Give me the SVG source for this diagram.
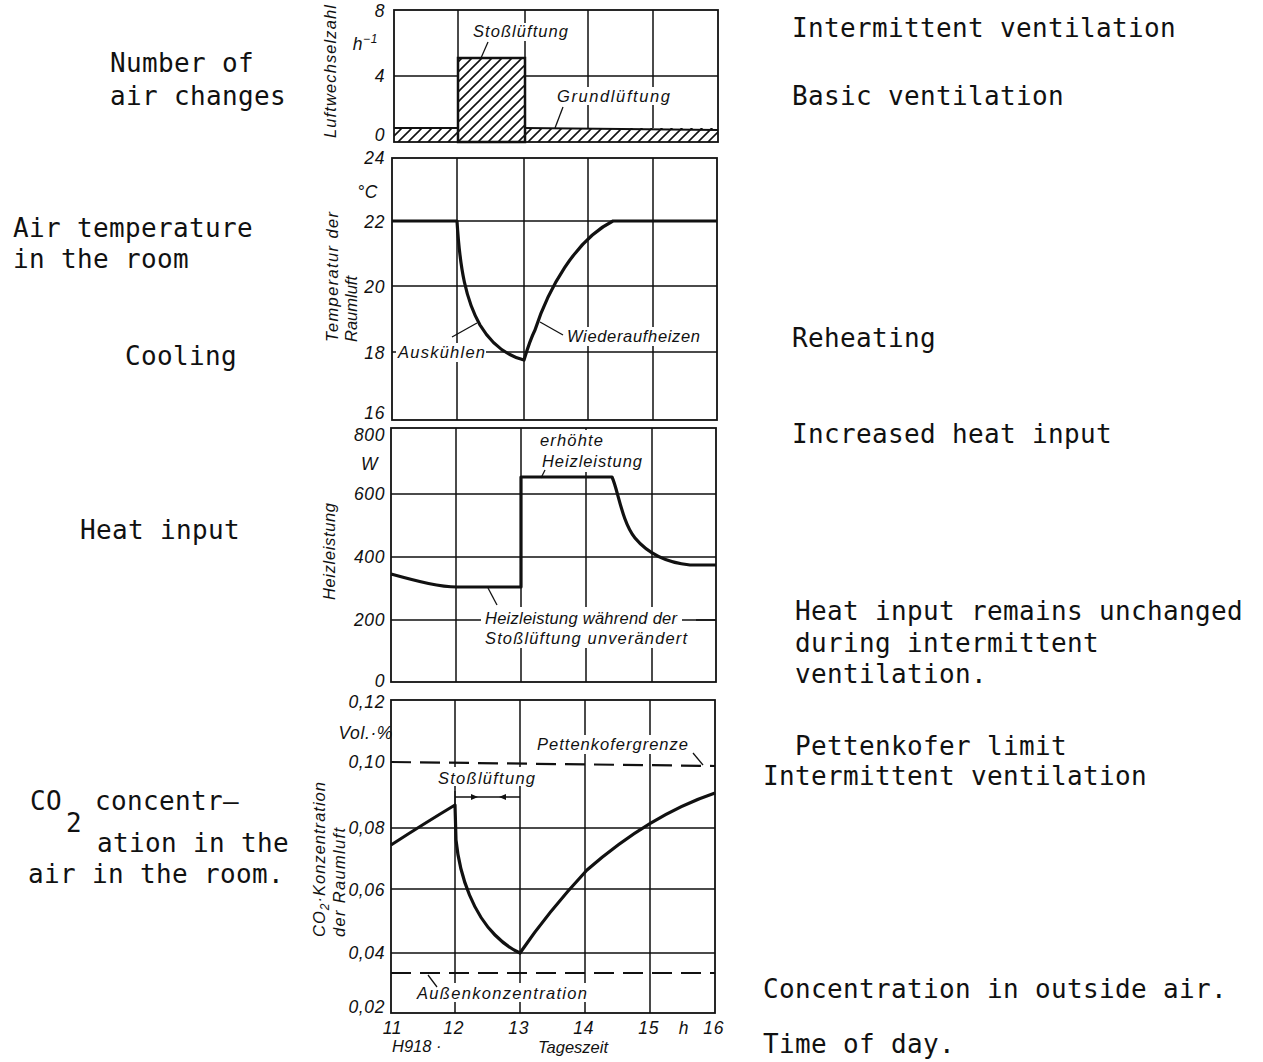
<svg xmlns="http://www.w3.org/2000/svg" width="1263" height="1062" viewBox="0 0 1263 1062">
<style>
.mono{font-family:"DejaVu Sans Mono","Liberation Mono",monospace;font-size:26px;letter-spacing:0.35px;fill:#111}
.lbl{font-family:"Liberation Sans",Arial,sans-serif;font-style:italic;font-size:16.5px;fill:#111}
.tick{font-family:"Liberation Sans",Arial,sans-serif;font-style:italic;font-size:17.5px;letter-spacing:0.6px;fill:#111;text-anchor:end}
.grid{stroke:#111;stroke-width:1.5;fill:none}
.frame{stroke:#111;stroke-width:1.8;fill:none}
.curve{stroke:#111;stroke-width:3.2;fill:none;stroke-linejoin:round}
.lead{stroke:#111;stroke-width:1.3;fill:none}
.dash{stroke:#111;stroke-width:2.2;fill:none;stroke-dasharray:20 9}
.bg{fill:#fff}
</style>
<defs>
<pattern id="hatch" patternUnits="userSpaceOnUse" width="10" height="10">
<rect width="10" height="10" fill="#fff"/>
<path d="M-1,11 L11,-1 M-1,1 L1,-1 M9,11 L11,9" stroke="#111" stroke-width="1.6"/>
</pattern>
</defs>
<rect width="1263" height="1062" fill="#fff"/>

<!-- Chart 1: air changes -->
<g id="chart-air-changes">
<path class="grid" d="M458,10 V142 M525,10 V142 M588,10 V142 M653,10 V142 M394,76 H718"/>
<rect x="394" y="128" width="324" height="14" fill="url(#hatch)"/>
<rect x="458" y="58" width="67" height="84" fill="url(#hatch)" stroke="#111" stroke-width="2.5"/>
<path d="M394,128 H458 M525,128 L718,130" stroke="#111" stroke-width="2" fill="none"/>
<rect class="frame" x="394" y="10" width="324" height="132"/>
<text class="tick" x="385" y="17">8</text>
<text class="tick" x="378" y="50">h<tspan dy="-7" font-size="12">−1</tspan></text>
<text class="tick" x="385" y="82">4</text>
<text class="tick" x="385" y="141">0</text>
<text class="lbl" font-size="17" transform="translate(336,138) rotate(-90)" textLength="133" lengthAdjust="spacing">Luftwechselzahl</text>
<rect class="bg" x="470" y="23" width="100" height="18"/>
<text class="lbl" x="473" y="37" textLength="95" lengthAdjust="spacing">Stoßlüftung</text>
<rect class="bg" x="554" y="87" width="118" height="18"/>
<text class="lbl" x="557" y="102" textLength="113" lengthAdjust="spacing">Grundlüftung</text>
</g>

<!-- Chart 2: temperature -->
<g id="chart-temperature">
<path class="grid" d="M457,158 V420 M524,158 V420 M588,158 V420 M653,158 V420 M392,221 H717 M392,286 H717 M392,352 H717"/>
<rect class="frame" x="392" y="158" width="325" height="262"/>
<rect class="bg" x="396" y="343" width="90" height="19"/>
<rect class="bg" x="564" y="327" width="138" height="19"/>
<path class="curve" d="M392,221 H457 C460,270 466,300 480,325 C492,345 508,356 524,360 C527,350 530,340 535,330 C548,290 575,240 613,221 H717"/>
<text class="tick" x="385" y="164">24</text>
<text class="tick" x="378" y="198">°C</text>
<text class="tick" x="385" y="228">22</text>
<text class="tick" x="385" y="293">20</text>
<text class="tick" x="385" y="359">18</text>
<text class="tick" x="385" y="419" font-size="16.5">16</text>
<text class="lbl" font-size="17" transform="translate(338,342) rotate(-90)" textLength="130" lengthAdjust="spacing">Temperatur der</text>
<text class="lbl" font-size="16.5" transform="translate(357,342) rotate(-90)">Raumluft</text>
<text class="lbl" x="398" y="358" textLength="87" lengthAdjust="spacing">Auskühlen</text>
<text class="lbl" x="567" y="342" textLength="133" lengthAdjust="spacing">Wiederaufheizen</text>
</g>

<!-- Chart 3: heat input -->
<g id="chart-heat">
<path class="grid" d="M456,428 V682 M521,428 V682 M586,428 V682 M652,428 V682 M391,494 H716 M391,557 H716 M391,620 H716"/>
<rect class="frame" x="391" y="428" width="325" height="254"/>
<rect class="bg" x="536" y="430" width="110" height="42"/>
<rect class="bg" x="481" y="607" width="215" height="41"/>
<path class="curve" d="M391,574 C420,582 440,587 457,587 H521 V477 H612 C618,490 622,522 635,538 C650,556 670,563 690,565 H716"/>
<text class="tick" x="385" y="441" font-size="16.5">800</text>
<text class="tick" x="378" y="470">W</text>
<text class="tick" x="385" y="500">600</text>
<text class="tick" x="385" y="563">400</text>
<text class="tick" x="385" y="626">200</text>
<text class="tick" x="385" y="687">0</text>
<text class="lbl" font-size="17" transform="translate(335,600) rotate(-90)" textLength="97" lengthAdjust="spacing">Heizleistung</text>
<text class="lbl" x="540" y="446" textLength="63" lengthAdjust="spacing">erhöhte</text>
<text class="lbl" x="542" y="467" textLength="100" lengthAdjust="spacing">Heizleistung</text>
<text class="lbl" x="485" y="624" textLength="192" lengthAdjust="spacing">Heizleistung während der</text>
<text class="lbl" x="485" y="644" textLength="202" lengthAdjust="spacing">Stoßlüftung unverändert</text>
</g>

<!-- Chart 4: CO2 -->
<g id="chart-co2">
<path class="grid" d="M455,700 V1013 M520,700 V1013 M585,700 V1013 M650,700 V1013 M391,828 H715 M391,889 H715 M391,953 H715"/>
<rect class="frame" x="391" y="700" width="324" height="313"/>
<path class="dash" d="M391,762 L715,766"/>
<path class="dash" d="M391,973 H715"/>
<rect class="bg" x="434" y="767" width="104" height="19"/>
<rect class="bg" x="533" y="735" width="158" height="19"/>
<rect class="bg" x="413" y="983" width="178" height="19"/>
<path class="curve" d="M391,845 Q425,823 455,805 L456,840 C460,880 475,915 495,935 C505,945 513,950 520,953 Q548,912 587,870 Q650,815 715,793"/>
<path class="lead" d="M455,791 V804 M455,797 H520"/>
<path d="M478,797 l-7,-3 v6 z M499,797 l7,-3 v6 z" fill="#111"/>
<text class="tick" x="385" y="708">0,12</text>
<text class="tick" x="393" y="739">Vol.·%</text>
<text class="tick" x="385" y="768">0,10</text>
<text class="tick" x="385" y="834">0,08</text>
<text class="tick" x="385" y="896">0,06</text>
<text class="tick" x="385" y="959">0,04</text>
<text class="tick" x="385" y="1013">0,02</text>
<text class="lbl" font-size="17" transform="translate(325,937) rotate(-90)" textLength="155" lengthAdjust="spacing">CO<tspan font-size="12" dy="4">2</tspan><tspan dy="-4">·Konzentration</tspan></text>
<text class="lbl" font-size="17" transform="translate(345,937) rotate(-90)" textLength="109" lengthAdjust="spacing">der Raumluft</text>
<text class="lbl" x="438" y="784" textLength="97" lengthAdjust="spacing">Stoßlüftung</text>
<text class="lbl" x="537" y="750" textLength="151" lengthAdjust="spacing">Pettenkofergrenze</text>
<text class="lbl" x="417" y="999" textLength="170" lengthAdjust="spacing">Außenkonzentration</text>
<text class="tick" x="402" y="1034">11</text>
<text class="tick" x="464" y="1034">12</text>
<text class="tick" x="529" y="1034">13</text>
<text class="tick" x="594" y="1034">14</text>
<text class="tick" x="659" y="1034">15</text>
<text class="tick" x="689" y="1034">h</text>
<text class="tick" x="724" y="1034">16</text>
<text class="lbl" x="538" y="1053" textLength="70" lengthAdjust="spacing">Tageszeit</text>
<text class="lbl" x="392" y="1052" font-size="9" font-style="normal">H918 ·</text>
</g>

<!-- Leader lines -->
<g id="connectors">
<path class="lead" d="M488,42 L481,58"/>
<path class="lead" d="M563,107 L555,128"/>
<path class="lead" d="M452,337 L477,323"/>
<path class="lead" d="M540,322 L563,335"/>
<path class="lead" d="M545,470 L541,478"/>
<path class="lead" d="M497,605 L488,588"/>
<path class="lead" d="M682,620 H716"/>
<path class="lead" d="M693,753 L703,765"/>
<path class="lead" d="M428,975 L437,987"/>
</g>

<!-- Left annotations -->
<g id="left-labels">
<text class="mono" x="110" y="72">Number of</text>
<text class="mono" x="110" y="105">air changes</text>
<text class="mono" x="13" y="237">Air temperature</text>
<text class="mono" x="13" y="268">in the room</text>
<text class="mono" x="125" y="365">Cooling</text>
<text class="mono" x="80" y="539">Heat input</text>
<text class="mono" x="30" y="810">CO</text>
<text class="mono" x="66" y="832" font-size="22">2</text>
<text class="mono" x="95" y="810">concentr—</text>
<text class="mono" x="97" y="852">ation in the</text>
<text class="mono" x="28" y="883">air in the room.</text>
</g>

<!-- Right annotations -->
<g id="right-labels">
<text class="mono" x="792" y="37">Intermittent ventilation</text>
<text class="mono" x="792" y="105">Basic ventilation</text>
<text class="mono" x="792" y="347">Reheating</text>
<text class="mono" x="792" y="443">Increased heat input</text>
<text class="mono" x="795" y="620">Heat input remains unchanged</text>
<text class="mono" x="795" y="652">during intermittent</text>
<text class="mono" x="795" y="683">ventilation.</text>
<text class="mono" x="795" y="755">Pettenkofer limit</text>
<text class="mono" x="763" y="785">Intermittent ventilation</text>
<text class="mono" x="763" y="998">Concentration in outside air.</text>
<text class="mono" x="763" y="1053">Time of day.</text>
</g>
</svg>
